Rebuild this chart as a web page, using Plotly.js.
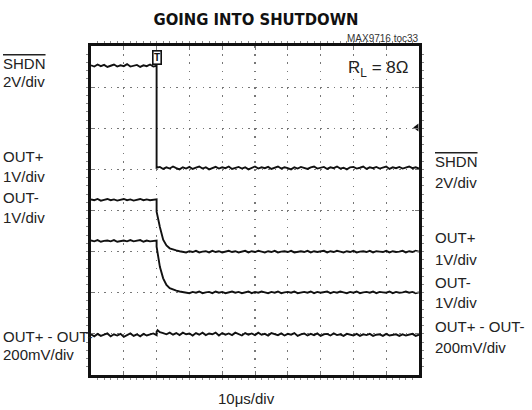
<!DOCTYPE html>
<html>
<head>
<meta charset="utf-8">
<script src="https://cdn.plot.ly/plotly-3.0.1.min.js"></script>
<style>html,body{margin:0;padding:0;background:#fff;}#chart{width:532px;height:410px;}</style>
</head>
<body>
<div id="chart"></div>
<script>
// time axis in microseconds (10 us/div, 10 divisions); values in screen divisions (8 divisions)
const tPre = [0,1,2,3,4,5,6,7,8,9,10,11,12,13,14,15,16,17,18,19,20];
const tPost = [21,22,23,24,25,26,27,28,29,30,31,32,33,34,35,36,37,38,39,40,
  41,42,43,44,45,46,47,48,49,50,51,52,53,54,55,56,57,58,59,60,
  61,62,63,64,65,66,67,68,69,70,71,72,73,74,75,76,77,78,79,80,
  81,82,83,84,85,86,87,88,89,90,91,92,93,94,95,96,97,98,99,100];

// SHDN (2V/div)
const shdnPre = [7.53,7.50,7.55,7.51,7.54,7.49,7.52,7.55,7.50,7.53,7.51,7.56,7.50,7.52,7.54,7.49,7.53,7.51,7.55,7.50,7.52];
const shdnTrT = [20];
const shdnTrV = [5.04];
const shdnPost = [5.06,5.01,5.05,5.02,5.07,5.03,5.00,5.05,5.02,5.06,
  5.01,5.04,5.07,5.02,5.05,5.00,5.04,5.06,5.02,5.05,
  5.03,5.07,5.01,5.04,5.06,5.02,5.05,5.00,5.04,5.07,
  5.02,5.05,5.03,5.06,5.01,5.04,5.07,5.02,5.05,5.03,
  5.00,5.05,5.02,5.06,5.04,5.01,5.05,5.07,5.02,5.04,
  5.06,5.01,5.05,5.03,5.07,5.02,5.04,5.00,5.05,5.06,
  5.02,5.04,5.07,5.01,5.05,5.03,5.06,5.02,5.04,5.07,
  5.01,5.05,5.03,5.06,5.02,5.04,5.07,5.03,5.05,5.02];

// OUT+ (1V/div)
const outPPre = [4.27,4.25,4.28,4.24,4.26,4.28,4.25,4.27,4.24,4.26,4.28,4.25,4.27,4.24,4.26,4.28,4.25,4.27,4.25,4.26,4.27];
const outPTrT = [20,20.25,20.5,20.75];
const outPTrV = [3.97,3.87,3.78,3.69];
const outPPost = [3.60,3.29,3.15,3.08,3.05,3.03,3.01,
  3.00,2.98,3.01,2.99,3.02,2.98,3.00,3.01,2.98,3.02,
  2.99,3.01,2.98,3.00,3.02,2.99,3.01,2.98,3.00,3.02,
  2.98,3.01,2.99,3.02,3.00,2.98,3.01,2.99,3.02,2.98,
  3.00,3.01,2.99,3.02,2.98,3.00,3.01,2.99,3.02,2.98,
  3.01,2.99,3.00,3.02,2.98,3.01,2.99,3.02,3.00,2.98,
  3.01,2.99,3.02,2.98,3.00,3.01,2.99,3.02,2.98,3.01,
  3.00,2.99,3.02,2.98,3.01,2.99,3.00,3.02,2.98,3.01,
  2.99,3.02,3.00];

// OUT- (1V/div)
const outMPre = [3.27,3.25,3.28,3.24,3.26,3.27,3.25,3.28,3.24,3.26,3.27,3.25,3.28,3.25,3.26,3.28,3.24,3.27,3.25,3.26,3.27];
const outMTrT = [20,20.25,20.5,20.75];
const outMTrV = [3.12,3.00,2.86,2.74];
const outMPost = [2.63,2.35,2.19,2.11,2.07,2.05,2.03,2.02,
  2.01,1.99,2.02,2.00,2.03,1.99,2.01,2.02,1.99,2.03,
  2.00,2.02,1.99,2.01,2.03,2.00,2.02,1.99,2.01,2.03,
  1.99,2.02,2.00,2.03,2.01,1.99,2.02,2.00,2.03,1.99,
  2.01,2.02,2.00,2.03,1.99,2.01,2.02,2.00,2.03,1.99,
  2.02,2.00,2.01,2.03,1.99,2.02,2.00,2.03,2.01,1.99,
  2.02,2.00,2.03,1.99,2.01,2.02,2.00,2.03,1.99,2.02,
  2.01,2.00,2.03,1.99,2.02,2.00,2.01,2.03,2.00,2.02,1.99,2.01];

// OUT+ - OUT- (200mV/div)
const diffPre = [0.99,0.94,1.00,0.95,0.98,1.01,0.94,0.99,0.96,1.00,0.93,0.98,1.01,0.95,0.99,0.94,1.00,0.96,0.98,1.01,0.97];
const diffTrT = [20,20.3,20.6];
const diffTrV = [1.05,1.09,1.06];
const diffPost = [1.04,1.02,0.99,1.03,0.98,1.02,0.97,1.03,0.99,1.01,
  0.96,1.02,0.98,1.03,0.97,1.01,0.99,1.03,0.96,1.02,
  0.98,1.01,0.97,1.03,0.99,0.96,1.02,0.98,1.01,0.97,
  1.03,0.98,1.00,0.96,1.02,0.99,0.97,1.01,0.96,1.00,
  0.98,1.02,0.95,0.99,1.01,0.96,1.00,0.97,1.01,0.95,
  0.99,1.00,0.96,1.01,0.97,0.99,0.95,1.00,0.98,0.96,
  1.00,0.95,0.99,0.97,1.00,0.95,0.98,0.99,0.95,1.00,
  0.96,0.98,0.99,0.95,0.99,0.96,0.98,1.00,0.95,0.98];

// trigger level marker (divisions) at right edge
const trigLevelT = [99.3];
const trigLevelV = [6.02];

const leftLabels = ['SHDN','2V/div','OUT+','1V/div','OUT-','1V/div','OUT+ - OUT-','200mV/div'];
const rightLabels = ['SHDN','2V/div','OUT+','1V/div','OUT-','1V/div','OUT+ - OUT-','200mV/div'];

// ---- layout geometry (pixels) ----
const W = 532, H = 410;
const L = 91, R = 419, T = 46, B = 375;
const pxX = p => (p - L) / (R - L);
const pxY = p => (B - p) / (B - T);

const SANS = '"Liberation Sans", Arial, sans-serif';
const TITLEFONT = '"DejaVu Sans Condensed", "Liberation Sans", sans-serif';
const FS = 15;
const TXT = '#222';

function trace(pre, trT, trV, post) {
  return {
    x: tPre.concat(trT, tPost),
    y: pre.concat(trV, post),
    type: 'scatter', mode: 'lines',
    line: {color: '#111', width: 1.9},
    hoverinfo: 'skip', showlegend: false
  };
}

const data = [
  trace(shdnPre, shdnTrT, shdnTrV, shdnPost),
  trace(outPPre, outPTrT, outPTrV, outPPost),
  trace(outMPre, outMTrT, outMTrV, outMPost),
  trace(diffPre, diffTrT, diffTrV, diffPost),
  {x: trigLevelT, y: trigLevelV, type: 'scatter', mode: 'markers',
   marker: {symbol: 'triangle-left', size: 7, color: '#111'}, cliponaxis: false,
   hoverinfo: 'skip', showlegend: false}
];

const leftBase = [68.3, 86.7, 161.7, 181.7, 202.3, 222.7, 341.7, 360];
const rightBase = [166.7, 188, 243, 265, 288, 308, 332, 353];

const annotations = [];
function addLabel(text, xpx, basePx, over) {
  annotations.push({
    text: text, xref: 'paper', yref: 'paper',
    x: pxX(xpx), y: pxY(basePx - 0.35 * FS),
    xanchor: 'left', yanchor: 'middle', showarrow: false, borderpad: 0,
    font: {family: SANS, size: FS, color: TXT, lineposition: over ? 'over' : 'none'}
  });
}
leftLabels.forEach((s, i) => addLabel(s, 2, leftBase[i], i === 0));
rightLabels.forEach((s, i) => addLabel(s, 434, rightBase[i], i === 0));

annotations.push({
  text: 'MAX9716 toc33', xref: 'paper', yref: 'paper',
  x: pxX(420), y: pxY(42 - 3.5), xanchor: 'right', yanchor: 'middle',
  showarrow: false, borderpad: 0,
  font: {family: SANS, size: 10, color: '#333'}
});
annotations.push({
  text: 'R<sub>L</sub> = 8Ω', xref: 'paper', yref: 'paper',
  x: pxX(409), y: pxY(75 - 0.35 * 17), xanchor: 'right', yanchor: 'middle',
  showarrow: false, borderpad: 0,
  font: {family: SANS, size: 17, color: TXT}
});
annotations.push({
  text: '10μs/div', xref: 'paper', yref: 'paper',
  x: pxX(246.5), y: pxY(403.5 - 0.35 * FS), xanchor: 'center', yanchor: 'middle',
  showarrow: false, borderpad: 0,
  font: {family: SANS, size: FS, color: TXT}
});
// trigger position marker
annotations.push({
  text: '<b>T</b>', xref: 'x', yref: 'paper', x: 20, y: 1, yshift: -4,
  xanchor: 'center', yanchor: 'top', showarrow: false,
  bgcolor: '#fff', bordercolor: '#111', borderwidth: 1.6, borderpad: 0.5,
  font: {family: SANS, size: 10, color: '#111'}
});

const axisCommon = {
  showline: true, linecolor: '#111', linewidth: 2.7, mirror: 'allticks',
  zeroline: false, showticklabels: false, ticks: 'inside', ticklen: 4,
  tickcolor: '#777', tickwidth: 1, gridcolor: '#777', gridwidth: 1.2,
  fixedrange: true
};

const layout = {
  width: W, height: H,
  margin: {l: L, r: W - R, t: T, b: H - B, pad: 0},
  paper_bgcolor: '#fff', plot_bgcolor: '#fff',
  title: {
    text: '<b>GOING INTO SHUTDOWN</b>',
    xref: 'paper', x: pxX(256), xanchor: 'center',
    yref: 'container', y: 1 - 19.5 / H, yanchor: 'middle',
    font: {family: TITLEFONT, size: 16.5, color: '#111'}
  },
  xaxis: Object.assign({}, axisCommon, {
    range: [0, 100], dtick: 10, tick0: 0, griddash: '1.5px,6.72px',
    minor: {dtick: 2, ticklen: 2.5, tickcolor: '#888', tickwidth: 1, showgrid: false}
  }),
  yaxis: Object.assign({}, axisCommon, {
    range: [0, 8], dtick: 1, tick0: 0, griddash: '1.5px,5.06px',
    minor: {dtick: 0.2, ticklen: 2.5, tickcolor: '#888', tickwidth: 1, showgrid: false}
  }),
  annotations: annotations,
  showlegend: false
};

Plotly.newPlot('chart', data, layout, {displayModeBar: false, staticPlot: true});
</script>
</body>
</html>
